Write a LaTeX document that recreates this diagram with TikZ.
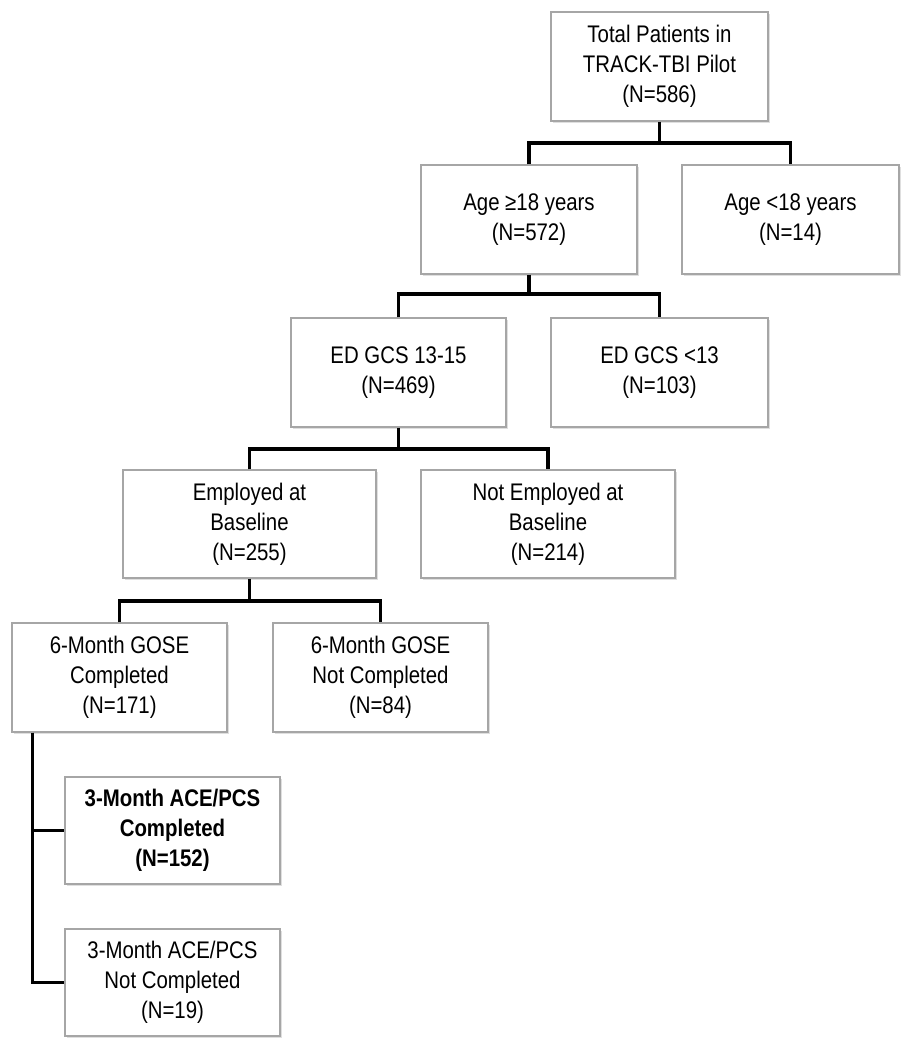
\documentclass[tikz,border=0pt]{standalone}
\usepackage{fontspec}
\setmainfont[FakeStretch=0.85]{Liberation Sans}
\usetikzlibrary{shadows}
\begin{document}
\begin{tikzpicture}[x=1pt,y=-1pt,
  box/.style={draw=black!35, line width=1.1pt, fill=white, align=center,
    inner sep=0pt, minimum height=108pt,
    font=\fontsize{24}{30}\selectfont,
    drop shadow={opacity=0.25, shadow xshift=1.5pt, shadow yshift=-2pt}},
  conn/.style={line width=3.2pt, black, line join=miter}]
\useasboundingbox (0,0) rectangle (909,1050);
\fill[white] (0,0) rectangle (909,1050);
\node[box, minimum width=217pt, minimum height=109pt] (b1) at (659.5,66.5) {Total Patients in\\TRACK-TBI Pilot\\(N=586)};
\node[box, minimum width=216pt, minimum height=109pt] (b2) at (529,219.5) {Age ≥18 years\\(N=572)};
\node[box, minimum width=217pt, minimum height=109pt] (b3) at (790.5,219.5) {Age <18 years\\(N=14)};
\node[box, minimum width=215pt, minimum height=109pt] (b4) at (398.5,372.5) {ED GCS 13-15\\(N=469)};
\node[box, minimum width=217pt, minimum height=109pt] (b5) at (659.5,372.5) {ED GCS <13\\(N=103)};
\node[box, minimum width=253pt] (b6) at (249.5,524) {Employed at\\Baseline\\(N=255)};
\node[box, minimum width=254pt] (b7) at (548,524) {Not Employed at\\Baseline\\(N=214)};
\node[box, minimum width=215pt, minimum height=109pt] (b8) at (119.5,677.5) {6-Month GOSE\\Completed\\(N=171)};
\node[box, minimum width=215pt, minimum height=109pt] (b9) at (380.5,677.5) {6-Month GOSE\\Not Completed\\(N=84)};
\node[box, minimum width=215pt, minimum height=107pt, font=\fontsize{24}{30}\selectfont\bfseries] (b10) at (172.5,830.5) {3-Month ACE/PCS\\Completed\\(N=152)};
\node[box, minimum width=215pt, minimum height=107pt] (b11) at (172.5,982.5) {3-Month ACE/PCS\\Not Completed\\(N=19)};
\coordinate (j1) at (659.5,143);
\coordinate (j2) at (529,294);
\coordinate (j3) at (398.5,449);
\coordinate (j4) at (249.5,601);
\draw[conn] (b1.south) -- (j1);
\draw[conn] (b2.north) |- (j1) -| (b3.north);
\draw[conn] (b2.south) -- (j2);
\draw[conn] (b4.north) |- (j2) -| (b5.north);
\draw[conn] (b4.south) -- (j3);
\draw[conn] (b6.north) |- (j3) -| (b7.north);
\draw[conn] (b6.south) -- (j4);
\draw[conn] (b8.north) |- (j4) -| (b9.north);
\coordinate (l8) at ([xshift=21pt]b8.south west);
\draw[conn] (l8) |- (b11.west);
\draw[conn] (l8) |- (b10.west);
\end{tikzpicture}
\end{document}
